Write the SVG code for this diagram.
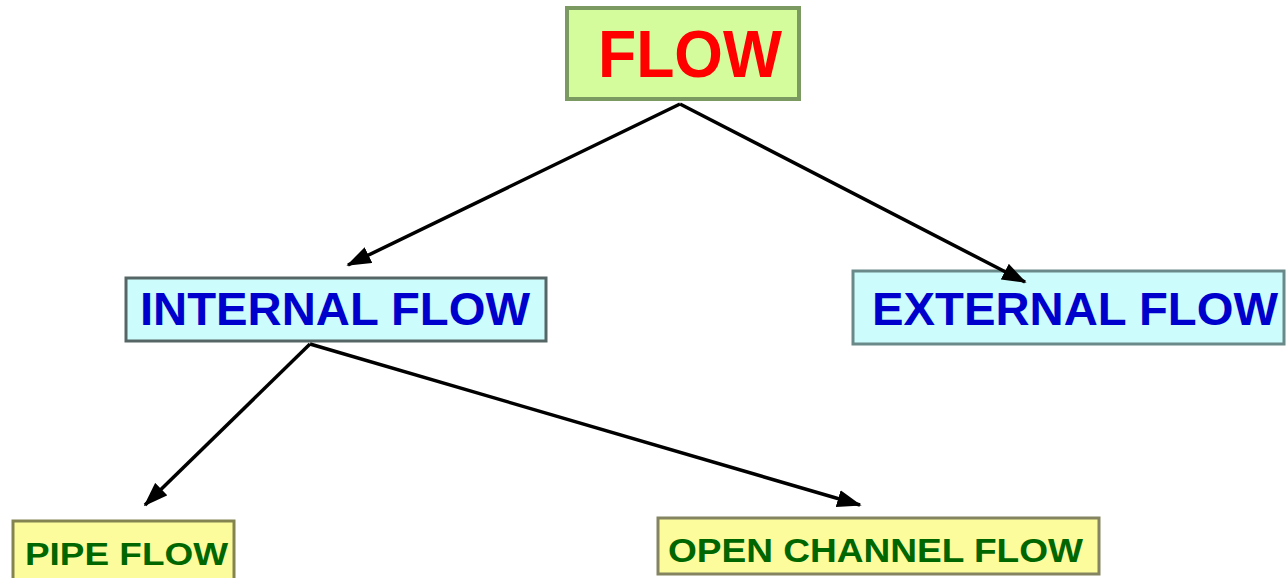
<svg xmlns="http://www.w3.org/2000/svg" width="1286" height="578" viewBox="0 0 1286 578">
<defs>
<style>
.t{font-family:"Liberation Sans",Arial,sans-serif;font-weight:bold}
.conn line{stroke:#000;stroke-width:3.5}
</style>
<marker id="ah" markerWidth="7" markerHeight="5" refX="6.5" refY="2.5" orient="auto" markerUnits="strokeWidth">
<path d="M0,0 L7,2.5 L0,5 Z" fill="#000"/>
</marker>
</defs>
<rect width="1286" height="578" fill="#fff"/>
<g id="flow">
<rect x="567" y="8" width="232" height="91" fill="#d4fc9c" stroke="#7a9a62" stroke-width="4"/>
<text class="t" x="598" y="77" font-size="66" fill="#ff0000" textLength="184" lengthAdjust="spacingAndGlyphs">FLOW</text>
</g>
<g id="internal">
<rect x="126" y="278" width="420" height="63" fill="#ccfcfc" stroke="#566666" stroke-width="3"/>
<text class="t" x="140" y="325" font-size="47" fill="#0000cc" textLength="390" lengthAdjust="spacingAndGlyphs">INTERNAL FLOW</text>
</g>
<g id="external">
<rect x="853" y="271" width="431" height="73" fill="#ccfcfc" stroke="#6a8a8a" stroke-width="3"/>
<text class="t" x="872" y="325" font-size="47" fill="#0000cc" textLength="406" lengthAdjust="spacingAndGlyphs">EXTERNAL FLOW</text>
</g>
<g id="pipe">
<rect x="13" y="521" width="221" height="60" fill="#fcfc9c" stroke="#848450" stroke-width="3"/>
<text class="t" x="25" y="565" font-size="32" fill="#006600" textLength="203" lengthAdjust="spacingAndGlyphs">PIPE FLOW</text>
</g>
<g id="open">
<rect x="658" y="518" width="441" height="56" fill="#fcfc9c" stroke="#848460" stroke-width="3"/>
<text class="t" x="668" y="562" font-size="34" fill="#006600" textLength="415" lengthAdjust="spacingAndGlyphs">OPEN CHANNEL FLOW</text>
</g>
<g class="conn">
<line x1="680" y1="104" x2="348" y2="265" marker-end="url(#ah)"/>
<line x1="680" y1="104" x2="1025" y2="282" marker-end="url(#ah)"/>
<line x1="310" y1="344" x2="145" y2="505" marker-end="url(#ah)"/>
<line x1="310" y1="344" x2="860" y2="505" marker-end="url(#ah)"/>
</g>
</svg>
